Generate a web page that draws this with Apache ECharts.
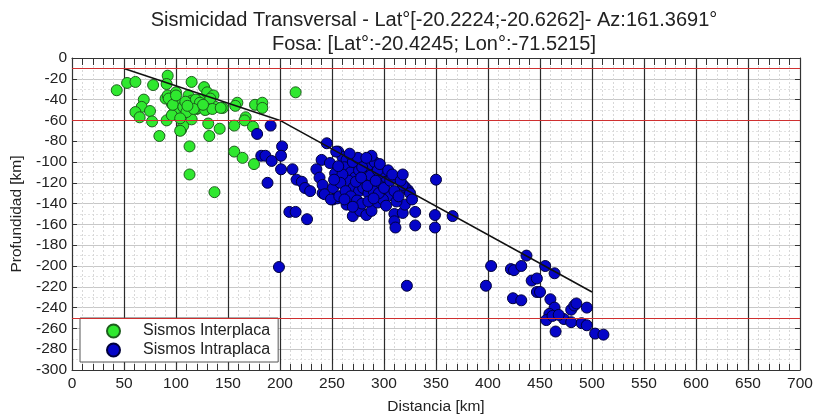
<!DOCTYPE html>
<html>
<head>
<meta charset="utf-8">
<script src="https://cdn.jsdelivr.net/npm/echarts@6/dist/echarts.min.js"></script>
<style>
  html, body { margin: 0; padding: 0; background: #fff; }
  #chart { width: 817px; height: 420px; }
</style>
</head>
<body>
<div id="chart"></div>
<script>
// sismos interplaca [distancia km, profundidad km]
const interplaca = [
  [43, -31], [53, -24], [61, -23], [78, -26], [92, -17], [91, -25], [115, -23],
  [69, -40], [67, -47], [61, -52], [65, -57], [75, -51], [77, -61], [84, -75],
  [91, -60], [90, -39], [92, -36], [100, -33], [99, -41], [96, -44], [97, -54], [102, -50],
  [105, -69], [107, -65], [108, -48], [112, -36], [115, -41], [115, -59], [113, -85], [113, -112],
  [120, -43], [120, -49], [123, -40], [127, -28], [130, -33], [131, -63], [132, -75], [130, -49],
  [132, -41], [136, -36], [137, -129], [142, -68], [138, -47], [145, -48], [156, -65], [159, -43],
  [157, -46], [156, -90], [164, -96], [167, -57], [166, -60], [174, -66], [175, -102], [176, -45],
  [183, -43], [183, -48], [215, -33],
  [96, -55], [93, -39], [97, -45], [100, -36], [104, -70], [107, -47], [110, -52], [113, -43],
  [119, -40], [121, -48], [123, -43], [133, -39], [128, -50], [135, -49], [143, -48], [109, -42],
  [117, -49], [126, -45], [111, -46], [104, -58]
];

// sismos intraplaca
const intraplaca = [
  [178, -73], [191, -65], [182, -94], [186, -94], [192, -99], [202, -85], [201, -94], [201, -107],
  [188, -120], [212, -107], [216, -117], [199, -201], [209, -148], [215, -148], [221, -119],
  [224, -125], [229, -128], [226, -155], [241, -130], [251, -136], [255, -135],
  [245, -82], [256, -90], [260, -95], [240, -98], [235, -107], [238, -115], [241, -122], [243, -131],
  [249, -136], [254, -90], [248, -101], [253, -111], [251, -125], [257, -133], [264, -141], [270, -152],
  [277, -147], [283, -151], [288, -147], [294, -139], [305, -132], [310, -150], [310, -157], [311, -163],
  [318, -149], [320, -141], [323, -127], [320, -124], [330, -148], [330, -161], [349, -151], [349, -163],
  [366, -152], [350, -117], [322, -219], [299, -136], [312, -138],
  [273, -104], [277, -101], [280, -98], [264, -98], [289, -107], [299, -114], [302, -119], [318, -122],
  [296, -123], [286, -120], [262, -105], [268, -110], [272, -115], [276, -108], [281, -112], [284, -104],
  [270, -100], [275, -96], [279, -105], [282, -118], [287, -113], [291, -100], [294, -108], [266, -118],
  [271, -124], [276, -128], [280, -125], [285, -130], [260, -112], [258, -120], [263, -128], [268, -133],
  [274, -137], [279, -140], [290, -128], [295, -130], [300, -125], [306, -118], [310, -128], [314, -133],
  [288, -94], [267, -92], [283, -96], [296, -102], [304, -108], [308, -112], [273, -119], [278, -115],
  [284, -123], [292, -118], [256, -104], [252, -117], [262, -136], [285, -138], [302, -142], [270, -143],
  [290, -135], [316, -118], [325, -130], [327, -136], [318, -112],
  [403, -200], [398, -219], [422, -203], [425, -204], [432, -200], [437, -190], [442, -214], [447, -212],
  [447, -225], [450, -225], [424, -231], [432, -233], [455, -200], [464, -207], [460, -232], [464, -240],
  [459, -246], [456, -252], [465, -263], [462, -248], [473, -251], [480, -254], [480, -242], [483, -238],
  [485, -236], [490, -255], [495, -257], [495, -240], [503, -265], [511, -266], [468, -247]
];

// perfil de la placa
const slab = [[50, -10], [200, -60], [500, -225]];
// profundidades de referencia
const refDepths = [-10, -60, -250];

const font = 'Liberation Sans, Arial, sans-serif';
const legendText = { fontFamily: font, fontSize: 16, color: '#222', padding: [0, 0, 0, 18] };

const chart = echarts.init(document.getElementById('chart'));

const option = {
  animation: false,
  title: {
    text: 'Sismicidad Transversal - Lat°[-20.2224;-20.6262]- Az:161.3691°\nFosa: [Lat°:-20.4245; Lon°:-71.5215]',
    left: 429,
    textAlign: 'center',
    top: 3,
    textStyle: {
      fontFamily: font,
      fontSize: 20,
      fontWeight: 'normal',
      color: '#222',
      lineHeight: 24,
    },
  },
  grid: {
    left: 72,
    right: 17,
    top: 58,
    bottom: 49,
  },
  legend: {
    orient: 'vertical',
    left: 80,
    top: 318,
    padding: [5, 8, 4, 26],
    itemWidth: 13,
    itemHeight: 13,
    itemGap: 3,
    backgroundColor: '#fff',
    borderColor: '#555',
    borderWidth: 1,
    borderRadius: 0,
    textStyle: legendText,
    data: [
      { name: 'Sismos Interplaca', icon: 'circle', textStyle: legendText },
      { name: 'Sismos Intraplaca', icon: 'circle', textStyle: legendText },
    ],
  },
  xAxis: [
    {
      type: 'value',
      min: 0,
      max: 700,
      interval: 50,
      name: 'Distancia [km]',
      nameLocation: 'middle',
      nameGap: 29,
      nameTextStyle: { fontFamily: font, fontSize: 15.5, color: '#222' },
      axisLine: { show: true, onZero: false, lineStyle: { color: '#333', width: 1 } },
      axisTick: { show: true, inside: true, length: 6, lineStyle: { color: '#333' } },
      minorTick: { show: true, splitNumber: 5, length: 6, lineStyle: { color: '#333' } },
      axisLabel: { fontFamily: font, fontSize: 15.5, color: '#222', margin: 6 },
      splitLine: { show: true, lineStyle: { color: '#2a2a2a', width: 1.2 } },
      minorSplitLine: { show: true, lineStyle: { color: '#d8d8d8', type: [2, 2] } },
    },
    {
      type: 'value',
      position: 'top',
      min: 0,
      max: 700,
      interval: 50,
      axisLine: { show: true, onZero: false, lineStyle: { color: '#333', width: 1 } },
      axisTick: { show: true, inside: true, length: 7, lineStyle: { color: '#333' } },
      minorTick: { show: true, splitNumber: 5, length: 7, lineStyle: { color: '#333' } },
      axisLabel: { show: false },
      splitLine: { show: false },
    },
  ],
  yAxis: [
    {
      type: 'value',
      min: -300,
      max: 0,
      interval: 20,
      name: 'Profundidad [km]',
      nameLocation: 'middle',
      nameGap: 45,
      nameTextStyle: { fontFamily: font, fontSize: 15.5, color: '#222' },
      axisLine: { show: true, onZero: false, lineStyle: { color: '#333', width: 1 } },
      axisTick: { show: true, inside: true, length: 5, lineStyle: { color: '#333' } },
      axisLabel: { fontFamily: font, fontSize: 15.5, color: '#222', margin: 5 },
      splitLine: { show: true, lineStyle: { color: '#c8c8c8', width: 1 } },
      minorTick: { show: false, splitNumber: 2 },
      minorSplitLine: { show: true, lineStyle: { color: '#e2e2e2', type: [2, 2] } },
    },
    {
      type: 'value',
      position: 'right',
      min: -300,
      max: 0,
      interval: 20,
      axisLine: { show: true, onZero: false, lineStyle: { color: '#333', width: 1 } },
      axisTick: { show: true, inside: true, length: 5, lineStyle: { color: '#333' } },
      axisLabel: { show: false },
      splitLine: { show: false },
    },
  ],
  series: [
    {
      name: 'refs',
      type: 'line',
      data: [],
      silent: true,
      z: 2,
      markLine: {
        silent: true,
        symbol: 'none',
        label: { show: false },
        lineStyle: { color: '#cf3030', width: 1.1, type: 'solid', opacity: 1 },
        data: refDepths.map(function (d) { return { yAxis: d }; }),
      },
    },
    {
      name: 'Sismos Interplaca',
      type: 'scatter',
      data: interplaca,
      symbolSize: 11,
      itemStyle: { color: '#2fe82f', borderColor: '#1d5e1d', borderWidth: 1, opacity: 1 },
      z: 3,
    },
    {
      name: 'Sismos Intraplaca',
      type: 'scatter',
      data: intraplaca,
      symbolSize: 11,
      itemStyle: { color: '#0505c8', borderColor: '#00003a', borderWidth: 1, opacity: 1 },
      z: 3,
    },
    {
      name: 'slab',
      type: 'line',
      data: slab,
      symbol: 'none',
      lineStyle: { color: '#111', width: 1.6 },
      z: 4,
    },
  ],
};

chart.setOption(option);
</script>
</body>
</html>
